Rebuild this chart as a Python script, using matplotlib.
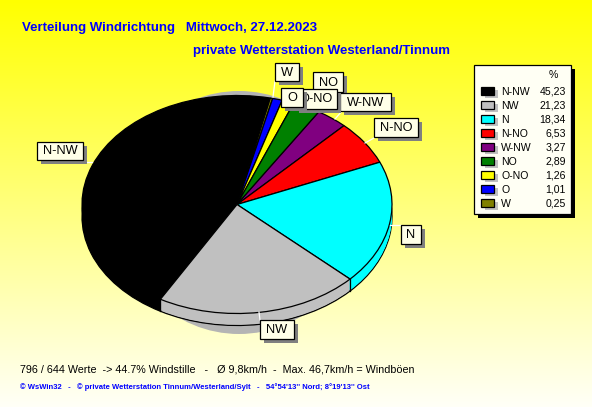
import numpy as np
import matplotlib
matplotlib.use('Agg')
import matplotlib.pyplot as plt
from matplotlib.patches import Rectangle, Ellipse

plt.rcParams['font.family'] = ['Liberation Sans', 'DejaVu Sans']

# werte, reihenfolge wie in der legende
legend_names = ['N-NW', 'NW', 'N', 'N-NO', 'W-NW', 'NO', 'O-NO', 'O', 'W']
legend_values = [45.23, 21.23, 18.34, 6.53, 3.27, 2.89, 1.26, 1.01, 0.25]
legend_colors = ['#000000', '#C0C0C0', '#00FFFF', '#FF0000', '#800080', '#008000', '#FFFF00', '#0000FF', '#808000']

# reihenfolge im kuchen (im uhrzeigersinn)
pie_names = ['N-NW', 'W', 'O', 'O-NO', 'NO', 'W-NW', 'N-NO', 'N', 'NW']
pie_values = [45.23, 0.25, 1.01, 1.26, 2.89, 3.27, 6.53, 18.34, 21.23]
pie_colors = ['#000000', '#808000', '#0000FF', '#FFFF00', '#008000', '#800080', '#FF0000', '#00FFFF', '#C0C0C0']

title1 = 'Verteilung Windrichtung   Mittwoch, 27.12.2023'
title2 = 'private Wetterstation Westerland/Tinnum'
footer1 = '796 / 644 Werte  -> 44.7% Windstille   -   Ø 9,8km/h  -  Max. 46,7km/h = Windböen'
footer2 = "© WsWin32   -   © private Wetterstation Tinnum/Westerland/Sylt   -   54°54'13'' Nord; 8°19'13'' Ost"

W, H = 592, 407
CX, CY, RX, RY = 237, 204.5, 155, 109
DEPTH = 12
START = 240.4

fig = plt.figure(figsize=(W / 100, H / 100), dpi=100)

# hintergrund + alles was in pixeln liegt
bg = fig.add_axes([0, 0, 1, 1])
bg.set_xlim(0, W)
bg.set_ylim(H, 0)
bg.axis('off')
grad = np.ones((256, 1, 3))
grad[:, 0, 2] = np.linspace(0, 0.97, 256)
bg.imshow(grad, extent=[0, W, H, 0], aspect='auto', zorder=0)
bg.add_patch(Ellipse((239, 212.5), 240, 243, fc='#B4B4B4', ec='none', zorder=1))

# kuchen, einheitskreis wird auf die ellipse abgebildet
ax = fig.add_axes([0, 0, 1, 1])
ax.patch.set_alpha(0)
off = DEPTH / RY
ax.pie(pie_values, colors=pie_colors, startangle=START, counterclock=False, center=(0, -off),
       wedgeprops={'edgecolor': 'black', 'linewidth': 0.9})
for d in range(DEPTH - 1, 0, -1):
    ax.pie(pie_values, colors=pie_colors, startangle=START, counterclock=False, center=(0, -d / RY),
           wedgeprops={'edgecolor': 'none', 'linewidth': 0})
ax.pie(pie_values, colors=pie_colors, startangle=START, counterclock=False,
       wedgeprops={'edgecolor': 'black', 'linewidth': 0.9})
ax.set_aspect('auto')
ax.set_xlim((0 - CX) / RX, (W - CX) / RX)
ax.set_ylim((CY - H) / RY, CY / RY)

# senkrechte kanten an der vorderseite
ang = np.radians(START - np.cumsum(pie_values) / np.sum(pie_values) * 360)
for a in [ang[-2], ang[-1]]:
    ax.plot([np.cos(a), np.cos(a)], [np.sin(a), np.sin(a) - off], color='black', lw=0.9)

top = fig.add_axes([0, 0, 1, 1])
top.patch.set_alpha(0)
top.set_xlim(0, W)
top.set_ylim(H, 0)
top.axis('off')

top.text(22, 31, title1, color='#0000FF', fontsize=9.5, fontweight='bold', va='baseline')
top.text(193, 54, title2, color='#0000FF', fontsize=9.56, fontweight='bold', va='baseline')
top.text(20, 373, footer1, color='black', fontsize=7.75, va='baseline')
top.text(20, 389, footer2, color='#0000FF', fontsize=5.5, fontweight='bold', va='baseline')

# beschriftungen: name, box x0, y0, x1, y1, linie
boxes = [
    ('W', 275, 63, 299, 81, (273, 97, 275, 81)),
    ('NO', 313, 72, 343, 92, None),
    ('W-NW', 340, 93, 391, 111, (335, 119, 342, 111)),
    ('O-NO', 295, 89, 337, 109, None),
    ('O', 281, 88, 303, 107, None),
    ('N-NO', 374, 118, 418, 137, (365, 143, 374, 138)),
    ('N', 401, 225, 421, 244, (390, 225, 401, 225)),
    ('NW', 260, 320, 294, 339, (259, 312, 260, 320)),
    ('N-NW', 37, 142, 83, 160, (84, 162, 92, 162)),
]
for i, (name, x0, y0, x1, y1, line) in enumerate(boxes):
    z = 5 + i
    if line:
        top.plot([line[0], line[2]], [line[1], line[3]], color='white', lw=0.9, zorder=4)
    top.add_patch(Rectangle((x0 + 4, y0 + 4), x1 - x0, y1 - y0, fc='#808080', ec='none', zorder=z))
    top.add_patch(Rectangle((x0, y0), x1 - x0, y1 - y0, fc='#FFFFE8', ec='black', lw=0.9, zorder=z))
    top.text((x0 + x1) / 2, (y0 + y1) / 2 + 0.5, name, fontsize=9.2, ha='center', va='center', zorder=z)

# legende
top.add_patch(Rectangle((478, 69), 97, 149, fc='black', ec='none', zorder=20))
top.add_patch(Rectangle((474, 65), 97, 149, fc='#FFFFF4', ec='black', lw=0.9, zorder=21))
top.text(553, 75, '%', fontsize=7.6, ha='center', va='center', zorder=22)
for i, name in enumerate(legend_names):
    y = 91 + i * 14
    top.add_patch(Rectangle((485, y - 1), 13, 8, fc='#C0C0C0', ec='none', zorder=22))
    top.add_patch(Rectangle((481, y - 4), 13, 8, fc=legend_colors[i], ec='black', lw=0.9, zorder=23))
    top.text(501, y + 0.7, name, fontsize=7.6, va='center', zorder=23)
    top.text(566, y + 0.7, f'{legend_values[i]:.2f}'.replace('.', ','), fontsize=7.6, ha='right', va='center', zorder=23)

fig.savefig('out.png', dpi=100)
